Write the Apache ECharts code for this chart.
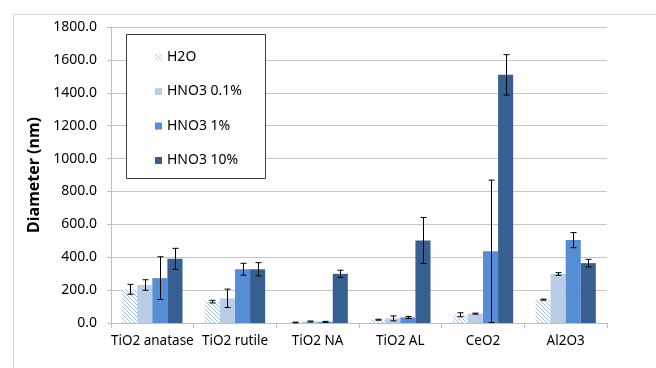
<!DOCTYPE html>
<html>
<head>
<meta charset="utf-8">
<script src="https://cdn.jsdelivr.net/npm/echarts@6/dist/echarts.min.js"></script>
<style>html,body{margin:0;padding:0;background:#fff;}#c{width:656px;height:368px;}</style>
</head>
<body>
<div id="c"></div>
<script>
const categories = ['TiO2 anatase', 'TiO2 rutile', 'TiO2 NA', 'TiO2 AL', 'CeO2', 'Al2O3'];
const seriesNames = ['H2O', 'HNO3 0.1%', 'HNO3 1%', 'HNO3 10%'];
const h2o = [205, 130, 3, 20, 50, 142];
const h2oErr = [30, 8, 2, 3, 12, 3];
const hno3_01 = [231, 150, 9, 28, 57, 298];
const hno3_01Err = [32, 56, 3, 15, 3, 8];
const hno3_1 = [273, 327, 7, 34, 436, 504];
const hno3_1Err = [130, 36, 3, 6, 433, 46];
const hno3_10 = [390, 327, 299, 502, 1509, 364];
const hno3_10Err = [64, 40, 22, 140, 123, 23];
const yTicks = [0, 200, 400, 600, 800, 1000, 1200, 1400, 1600, 1800];

const values = [h2o, hno3_01, hno3_1, hno3_10];
const errors = [h2oErr, hno3_01Err, hno3_1Err, hno3_10Err];

// hatch pattern for H2O
const pc = document.createElement('canvas');
pc.width = 4; pc.height = 4;
const g = pc.getContext('2d');
g.fillStyle = '#ffffff'; g.fillRect(0, 0, 4, 4);
g.strokeStyle = '#a8c0e0'; g.lineWidth = 1;
g.beginPath(); g.moveTo(0, 0); g.lineTo(4, 4); g.stroke();
g.beginPath(); g.moveTo(-2, 2); g.lineTo(2, 6); g.stroke();
g.beginPath(); g.moveTo(2, -2); g.lineTo(6, 2); g.stroke();

const colors = [{ image: pc, repeat: 'repeat' }, '#b9cde5', '#558ed5', '#376092'];
const CAT_GAP = 0.27;
const FONT = 'Noto Sans';

const barSeries = seriesNames.map((n, i) => ({
  name: n, type: 'bar', data: values[i],
  barGap: '0%', barCategoryGap: (CAT_GAP * 100) + '%',
  itemStyle: { color: colors[i] },
  z: 2
}));

const errSeries = seriesNames.map((n, s) => ({
  type: 'custom', name: n + ' err',
  data: values[s].map((v, i) => [i, v, errors[s][i]]),
  encode: { x: 0, y: 1 },
  z: 5,
  renderItem: function (params, api) {
    const idx = api.value(0), v = api.value(1), e = api.value(2);
    const band = api.size([1, 0])[0];
    const grp = band * (1 - CAT_GAP);
    const bw = grp / 4;
    const off = -grp / 2 + (s + 0.5) * bw;
    const hi = api.coord([idx, v + e]);
    const lo = api.coord([idx, Math.max(0, v - e)]);
    const x = Math.round(hi[0] + off) + 0.5;
    const cap = 3;
    const st = { stroke: '#000', lineWidth: 1 };
    return {
      type: 'group',
      children: [
        { type: 'line', shape: { x1: x, y1: hi[1], x2: x, y2: lo[1] }, style: st },
        { type: 'line', shape: { x1: x - cap, y1: hi[1], x2: x + cap, y2: hi[1] }, style: st },
        { type: 'line', shape: { x1: x - cap, y1: lo[1], x2: x + cap, y2: lo[1] }, style: st }
      ]
    };
  }
}));

const chart = echarts.init(document.getElementById('c'));
chart.setOption({
  animation: false,
  textStyle: { fontFamily: FONT },
  grid: { left: 111, right: 49, top: 27, bottom: 45 },
  graphic: [
    { type: 'rect', left: 11, top: 12, shape: { width: 700, height: 400 },
      style: { fill: 'none', stroke: '#d9d9d9', lineWidth: 1 }, z: 0 },
    { type: 'rect', left: 126, top: 34, shape: { width: 139, height: 144 },
      style: { fill: '#fff', stroke: '#404040', lineWidth: 1 }, z: 50 }
  ],
  legend: {
    data: seriesNames,
    orient: 'vertical',
    left: 150, top: 45,
    itemWidth: 7, itemHeight: 7,
    itemGap: 20.5,
    z: 60,
    textStyle: { fontFamily: FONT, fontSize: 14, color: '#000' },
    icon: 'rect'
  },
  xAxis: {
    type: 'category', data: categories,
    axisLine: { lineStyle: { color: '#bfbfbf' } },
    axisTick: { show: true, length: 5, alignWithLabel: false, lineStyle: { color: '#bfbfbf' } },
    axisLabel: { color: '#000', fontSize: 13.5, fontFamily: FONT, margin: 11, interval: 0, hideOverlap: false }
  },
  yAxis: {
    type: 'value', min: yTicks[0], max: yTicks[yTicks.length - 1], interval: 200,
    name: 'Diameter (nm)', nameLocation: 'middle', nameGap: 54,
    nameTextStyle: { fontSize: 16, fontWeight: 'bold', color: '#000', fontFamily: FONT },
    axisLine: { show: true, lineStyle: { color: '#bfbfbf' } },
    axisTick: { show: true, length: 4, lineStyle: { color: '#bfbfbf' } },
    splitLine: { lineStyle: { color: '#c6c6c6' } },
    axisLabel: { color: '#000', fontSize: 14, fontFamily: FONT, margin: 14,
      formatter: v => v.toFixed(1) }
  },
  series: barSeries.concat(errSeries)
});
</script>
</body>
</html>
